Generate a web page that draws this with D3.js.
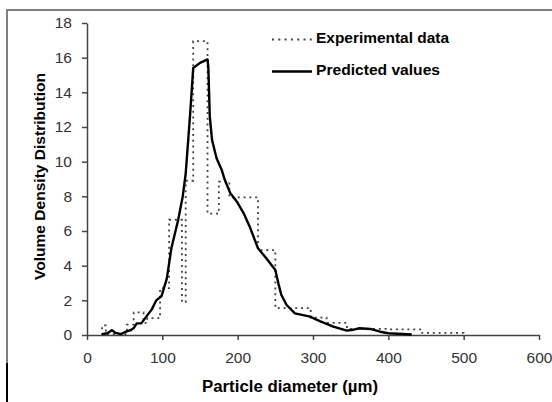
<!DOCTYPE html>
<html>
<head>
<meta charset="utf-8">
<script src="https://cdn.jsdelivr.net/npm/d3@7"></script>
<style>
  body { margin: 0; background: #fff; }
  text { font-family: "Liberation Sans", Arial, sans-serif; }
</style>
</head>
<body>
<svg id="chart" width="552" height="402"></svg>
<script>
// experimental data, drawn as steps (bin edge -> value)
const expEdges = [20, 20, 25, 53, 62, 75, 80, 97, 109, 126, 131, 141, 160, 175, 189, 227, 250, 297, 318, 345, 400, 445, 500];
const expValues = [0, 0.55, 0.05, 0.6, 1.3, 0.7, 0.97, 2.7, 6.65, 1.9, 8.9, 16.95, 7.0, 8.85, 7.94, 4.9, 1.55, 1.0, 0.7, 0.35, 0.33, 0.12, 0];

// predicted curve
const predDiam = [20, 27, 33, 38, 45, 52, 58, 62, 66, 72, 77, 86, 92, 99, 106, 112, 121, 127, 131, 137, 139, 141, 150, 160, 161, 163, 166, 172, 179, 183, 190, 199, 208, 216, 227, 238, 250, 254, 258, 265, 276, 287, 296, 309, 327, 345, 355, 362, 376, 389, 400, 431];
const predValues = [0.05, 0.1, 0.28, 0.12, 0.05, 0.2, 0.28, 0.4, 0.67, 0.67, 0.96, 1.48, 2.0, 2.25, 3.27, 5.0, 6.64, 7.98, 9.3, 12.8, 14.1, 15.4, 15.7, 15.9, 15.5, 12.6, 11.25, 10.2, 9.5, 8.94, 8.2, 7.69, 7.02, 6.25, 5.0, 4.43, 3.75, 2.98, 2.31, 1.73, 1.25, 1.15, 1.06, 0.8, 0.48, 0.25, 0.32, 0.39, 0.35, 0.19, 0.1, 0.03];

const xTicks = [0, 100, 200, 300, 400, 500, 600];
const yTicks = [0, 2, 4, 6, 8, 10, 12, 14, 16, 18];
const seriesNames = ['Experimental data', 'Predicted values'];

const svg = d3.select('#chart');

// outer frame (right and bottom edges fall outside the picture)
svg.append('rect')
  .attr('x', 7).attr('y', 10)
  .attr('width', 600).attr('height', 450)
  .attr('fill', '#fff')
  .attr('stroke', '#808080')
  .attr('stroke-width', 2);
svg.append('line')
  .attr('x1', 7).attr('x2', 7).attr('y1', 363).attr('y2', 402)
  .attr('stroke', '#000').attr('stroke-width', 2);

const x = d3.scaleLinear().domain([0, 600]).range([87, 539]);
const y = d3.scaleLinear().domain([0, 18]).range([335, 23]);

const xAxis = svg.append('g')
  .attr('transform', 'translate(0,335)')
  .call(d3.axisBottom(x).tickValues(xTicks).tickSizeInner(5).tickSizeOuter(0).tickPadding(12));
const yAxis = svg.append('g')
  .attr('transform', 'translate(87,0)')
  .call(d3.axisLeft(y).tickValues(yTicks).tickSizeInner(5).tickSizeOuter(0).tickPadding(10));

[xAxis, yAxis].forEach(a => {
  a.select('.domain').attr('stroke', '#444').attr('stroke-width', 1.5);
  a.selectAll('.tick line').attr('stroke', '#444').attr('stroke-width', 1.5);
  a.selectAll('.tick text')
    .attr('fill', '#333')
    .style('font-size', '15.5px')
    .style('font-family', '"Liberation Sans", Arial, sans-serif');
});

// experimental steps
const stepLine = d3.line()
  .x((d, i) => x(expEdges[i]))
  .y(d => y(d))
  .curve(d3.curveStepAfter);
svg.append('path')
  .datum(expValues)
  .attr('fill', 'none')
  .attr('stroke', '#444')
  .attr('stroke-width', 1.8)
  .attr('stroke-dasharray', '2,3.8')
  .attr('d', stepLine);

// predicted line
const predLine = d3.line()
  .x((d, i) => x(predDiam[i]))
  .y(d => y(d));
svg.append('path')
  .datum(predValues)
  .attr('fill', 'none')
  .attr('stroke', '#000')
  .attr('stroke-width', 2.4)
  .attr('stroke-linejoin', 'round')
  .attr('d', predLine);

// legend
const legend = svg.append('g');
legend.append('line')
  .attr('x1', 272).attr('x2', 312).attr('y1', 39.5).attr('y2', 39.5)
  .attr('stroke', '#444').attr('stroke-width', 1.8).attr('stroke-dasharray', '2,4.3');
legend.append('line')
  .attr('x1', 272).attr('x2', 312).attr('y1', 71.5).attr('y2', 71.5)
  .attr('stroke', '#000').attr('stroke-width', 2.4);
legend.selectAll('text.leg')
  .data(seriesNames)
  .join('text')
  .attr('class', 'leg')
  .attr('x', 316)
  .attr('y', (d, i) => i === 0 ? 42.7 : 74.5)
  .attr('textLength', (d, i) => i === 0 ? 133 : 124)
  .attr('lengthAdjust', 'spacingAndGlyphs')
  .style('font-size', '15.5px')
  .style('font-weight', 'bold')
  .text(d => d);

// axis titles
svg.append('text')
  .attr('x', 202).attr('y', 392)
  .attr('textLength', 176)
  .attr('lengthAdjust', 'spacingAndGlyphs')
  .style('font-size', '16px')
  .style('font-weight', 'bold')
  .text('Particle diameter (µm)');

svg.append('text')
  .attr('transform', 'translate(45,280) rotate(-90)')
  .attr('textLength', 207)
  .attr('lengthAdjust', 'spacingAndGlyphs')
  .style('font-size', '15.5px')
  .style('font-weight', 'bold')
  .text('Volume Density Distribution');
</script>
</body>
</html>
